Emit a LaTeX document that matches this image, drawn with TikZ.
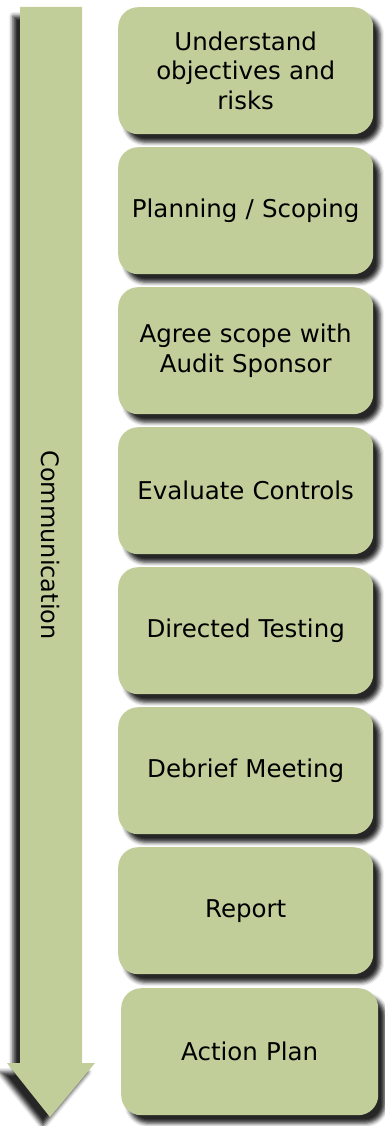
\documentclass[tikz,border=0pt]{standalone}
\usepackage{fontspec}
\setmainfont{DejaVu Sans}
\usetikzlibrary{shadows.blur}

\definecolor{stepgreen}{HTML}{C2CE9A}

\tikzset{
    stepbox/.style={draw=none, fill=stepgreen, rounded corners=20pt,
        minimum width=255pt, minimum height=127pt, text width=245pt,
        align=center, anchor=north west,
        font=\fontsize{24.5}{29.5}\selectfont,
        blur shadow={shadow xshift=7pt, shadow yshift=-8pt,
            shadow blur radius=4pt, shadow opacity=85}},
}

\begin{document}
\begin{tikzpicture}[x=1pt, y=-1pt]
                \useasboundingbox (0,0) rectangle (385,1126);

                % communication arrow
                \coordinate (A1) at (20,7);
                \coordinate (A2) at (82,7);
                \coordinate (A3) at (82,1063);
                \coordinate (A4) at (95,1063);
                \coordinate (T) at (50,1117);
                \coordinate (A5) at (7,1063);
                \coordinate (A6) at (20,1063);

                \fill[stepgreen, blur shadow={shadow xshift=-7pt, shadow yshift=-9pt,
                    shadow blur radius=4pt, shadow opacity=85}]
                    (A1) -- (A2) -- (A3) -- (A4) -- (T) -- (A5) -- (A6) -- cycle;

                \node[rotate=-90, font=\fontsize{24}{28}\selectfont] (comm) at (50,545) {Communication};

                % steps
                \node[stepbox] (s1) at (118,7) {Understand\\ objectives and\\ risks};
                \node[stepbox] (s2) at (118,147) {Planning / Scoping};
                \node[stepbox] (s3) at (118,287) {Agree scope with\\ Audit Sponsor};
                \node[stepbox] (s4) at (118,427) {Evaluate Controls};
                \node[stepbox] (s5) at (118,567) {Directed Testing};
                \node[stepbox] (s6) at (118,707) {Debrief Meeting};
                \node[stepbox] (s7) at (118,847) {Report};
                \node[stepbox, minimum width=257pt] (s8) at (121,988) {Action Plan};
\end{tikzpicture}
\end{document}
